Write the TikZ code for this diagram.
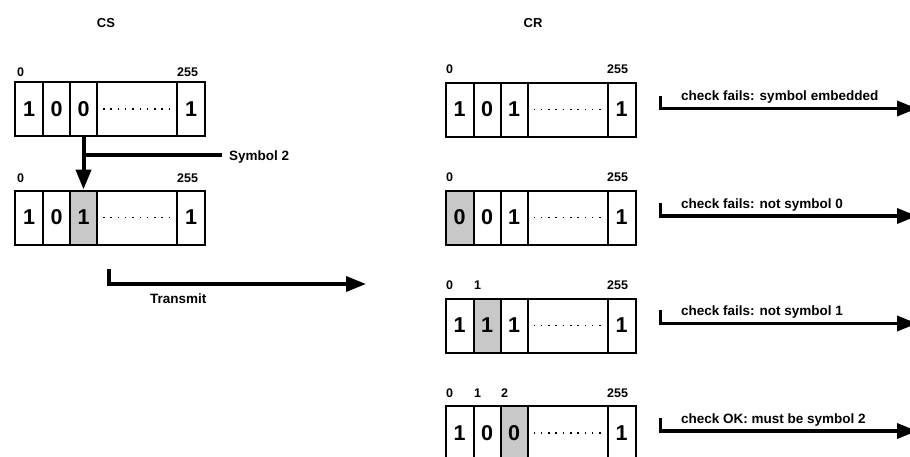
\documentclass[tikz,border=0pt]{standalone}
\usepackage{fontspec}
\setmainfont{Liberation Sans}
\usetikzlibrary{arrows.meta}
\definecolor{cellgray}{RGB}{200,200,200}
\tikzset{
  cell/.style={draw, line width=2pt, minimum height=54pt, inner sep=0pt, anchor=north west,
    font=\fontsize{21.5}{21.5}\selectfont\bfseries},
  lbl/.style={inner sep=0pt, anchor=base west, font=\fontsize{12.5}{13}\selectfont\bfseries},
  hdr/.style={inner sep=0pt, anchor=base, font=\fontsize{13}{13}\selectfont\bfseries},
  txt/.style={inner sep=0pt, anchor=base west, font=\fontsize{13.5}{13.5}\selectfont\bfseries},
  dotline/.style={line width=1.5pt, dash pattern=on 1.5pt off 5.8pt},
  bigarrow/.style={line width=4pt, -{Triangle[length=20pt,width=15pt]}},
  thinarrow/.style={line width=3.5pt, -{Triangle[length=20pt,width=15pt]}},
  plainline/.style={line width=3.5pt},
}
% #1 name, #2 x, #3 y top, #4-#6 digits, #7-#9 fills
\newcommand\regrow[9]{%
  \node[cell, minimum width=28pt, fill=#7] (#1a) at (#2,#3) {#4};
  \node[cell, minimum width=27pt, fill=#8] (#1b) at (#2+28,#3) {#5};
  \node[cell, minimum width=27pt, fill=#9] (#1c) at (#2+55,#3) {#6};
  \node[cell, minimum width=80pt, fill=white] (#1d) at (#2+82,#3) {};
  \node[cell, minimum width=28pt, fill=white] (#1e) at (#2+162,#3) {1};
  \draw[dotline] ([xshift=7pt]#1d.west) -- ([xshift=-6pt]#1d.east);
}
\begin{document}
\begin{tikzpicture}[x=1pt, y=-1pt]
\useasboundingbox (0,0) rectangle (910,456);
\clip (0,0) rectangle (910,456);

% headers
\node[hdr] (hcs) at (106,27) {CS};
\node[hdr] (hcr) at (533,27) {CR};

% CS registers
\regrow{csA}{14}{81}{1}{0}{0}{white}{white}{white}
\node[lbl] (csAl0) at (17,76) {0};
\node[lbl] (csAl255) at (177,76) {255};

\regrow{csB}{14}{189.5}{1}{0}{1}{white}{white}{cellgray}
\node[lbl] (csBl0) at (17,182) {0};
\node[lbl] (csBl255) at (177,182) {255};

% symbol 2 arrow
\draw[bigarrow] (csAc.south) -- (csBc.north);
\coordinate (symstart) at (csAc.south |- 0,155);
\coordinate (symend) at (222,155);
\draw[plainline] (symstart) -- (symend);
\node[txt] (sym) at (229,160.5) {Symbol 2};

% transmit
\coordinate (tx0) at (109,269);
\coordinate (tx1) at (109,284);
\coordinate (tx2) at (366,284);
\draw[thinarrow] (tx0) -- (tx1) -- (tx2);
\node[txt] (transmit) at (150,303) {Transmit};

% CR registers
\regrow{crA}{444.5}{81.5}{1}{0}{1}{white}{white}{white}
\node[lbl] (crAl0) at (446,73) {0};
\node[lbl] (crAl255) at (607,73) {255};

\regrow{crB}{444.5}{189.5}{0}{0}{1}{cellgray}{white}{white}
\node[lbl] (crBl0) at (446,181) {0};
\node[lbl] (crBl255) at (607,181) {255};

\regrow{crC}{444.5}{297.5}{1}{1}{1}{white}{cellgray}{white}
\node[lbl] (crCl0) at (446,289.5) {0};
\node[lbl] (crCl1) at (474,289.5) {1};
\node[lbl] (crCl255) at (607,289.5) {255};

\regrow{crD}{444.5}{405}{1}{0}{0}{white}{white}{cellgray}
\node[lbl] (crDl0) at (446,397.5) {0};
\node[lbl] (crDl1) at (474,397.5) {1};
\node[lbl] (crDl2) at (501,397.5) {2};
\node[lbl] (crDl255) at (607,397.5) {255};

% check arrows
\coordinate (c1a) at (660.5,95.5);
\coordinate (c1b) at (660.5,108.5);
\coordinate (c1c) at (917,108.5);
\draw[thinarrow] (c1a) -- (c1b) -- (c1c);
\node[txt] (t1) at (681,100.5) {check fails: symbol embedded};

\coordinate (c2a) at (660.5,203);
\coordinate (c2b) at (660.5,216);
\coordinate (c2c) at (917,216);
\draw[thinarrow] (c2a) -- (c2b) -- (c2c);
\node[txt] (t2) at (681,208.5) {check fails: not symbol 0};

\coordinate (c3a) at (660.5,310);
\coordinate (c3b) at (660.5,323.5);
\coordinate (c3c) at (917,323.5);
\draw[thinarrow] (c3a) -- (c3b) -- (c3c);
\node[txt] (t3) at (681,315.5) {check fails: not symbol 1};

\coordinate (c4a) at (660.5,418);
\coordinate (c4b) at (660.5,431);
\coordinate (c4c) at (917,431);
\draw[thinarrow] (c4a) -- (c4b) -- (c4c);
\node[txt] (t4) at (681,423) {check OK: must be symbol 2};
\end{tikzpicture}
\end{document}
